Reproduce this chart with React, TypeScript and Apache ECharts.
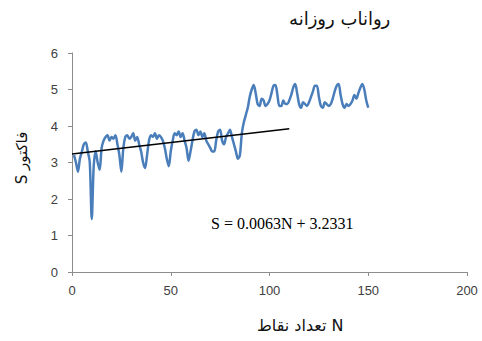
import React, { useEffect, useRef } from "react";
import * as echarts from "echarts";

const titleText = "رواناب روزانه";
const xAxisName = "تعداد نقاط N";
const yAxisName = "S فاکتور";
const equationText = "S = 0.0063N + 3.2331";
const slope = 0.0063;
const intercept = 3.2331;
const trendEndX = 110;

const sValues: number[] = [
  3.2, 3.0, 2.75, 3.1, 3.3, 3.5, 3.55, 3.3, 3.0, 1.45,
  2.9, 3.3, 3.0, 2.8, 3.4, 3.6, 3.7, 3.75, 3.6, 3.7,
  3.65, 3.75, 3.5, 3.2, 2.75, 3.4, 3.7, 3.75, 3.65, 3.7,
  3.8, 3.6, 3.7, 3.5, 3.3, 3.0, 2.85, 3.2, 3.6, 3.75,
  3.7, 3.8, 3.65, 3.75, 3.7, 3.6, 3.4, 3.1, 2.9, 3.3,
  3.6, 3.8, 3.75, 3.85, 3.7, 3.8, 3.6, 3.4, 3.05, 3.3,
  3.6, 3.85, 3.9, 3.75, 3.85, 3.7, 3.8, 3.6, 3.5, 3.4,
  3.3, 3.3, 3.6, 3.85, 3.9, 3.6, 3.5, 3.7, 3.8, 3.9,
  3.7, 3.5, 3.3, 3.1, 3.2, 3.8, 4.1, 4.3, 4.5, 4.8,
  5.0, 5.12, 4.9, 4.6, 4.55, 4.75, 4.7, 4.55, 4.6, 4.7,
  4.9, 5.1, 5.12, 4.85, 4.55, 4.55, 4.7, 4.6, 4.6, 4.7,
  4.85, 5.05, 5.15, 4.9, 4.6, 4.5, 4.65, 4.6, 4.55, 4.65,
  4.8, 4.95, 5.1, 5.1, 4.8, 4.55, 4.5, 4.65, 4.6, 4.55,
  4.6, 4.75, 4.95, 5.1, 5.15, 4.85, 4.6, 4.5, 4.6, 4.55,
  4.6, 4.7, 4.85, 4.75, 4.9, 5.05, 5.15, 5.0, 4.7, 4.5,
];

const xTicks = { min: 0, max: 200, interval: 50 };
const yTicks = { min: 0, max: 6, interval: 1 };

export default function App() {
  const ref = useRef<HTMLDivElement>(null);
  useEffect(() => {
    document.body.style.margin = "0";
    if (!ref.current) return;
    const chart = echarts.init(ref.current, null, { renderer: "svg" });
    const seriesData = sValues.map((v, i) => [i + 1, v]);
    const trendData = [
      [0, intercept],
      [trendEndX, +(intercept + slope * trendEndX).toFixed(4)],
    ];
    const axisColor = "#8c8c8c";
    const labelStyle = {
      color: "#404040",
      fontSize: 13,
      fontFamily: "Liberation Sans, Arial, sans-serif",
    };
    chart.setOption({
      animation: false,
      backgroundColor: "#ffffff",
      grid: { left: 72, right: 15, top: 53, bottom: 69, containLabel: false },
      xAxis: {
        type: "value",
        min: xTicks.min,
        max: xTicks.max,
        interval: xTicks.interval,
        splitLine: { show: false },
        axisLine: { show: true, lineStyle: { color: axisColor, width: 1 } },
        axisTick: { show: true, length: 4, lineStyle: { color: axisColor } },
        axisLabel: { ...labelStyle, margin: 12 },
      },
      yAxis: {
        type: "value",
        min: yTicks.min,
        max: yTicks.max,
        interval: yTicks.interval,
        splitLine: { show: false },
        axisLine: { show: true, lineStyle: { color: axisColor, width: 1 } },
        axisTick: { show: true, length: 4, lineStyle: { color: axisColor } },
        axisLabel: { ...labelStyle, margin: 14 },
      },
      graphic: [
        {
          type: "text",
          left: 289,
          top: 9,
          style: {
            text: titleText,
            fontSize: 18,
            fill: "#111",
            fontFamily: "DejaVu Sans, serif",
          },
        },
        {
          type: "text",
          left: 257,
          top: 317,
          style: {
            text: xAxisName,
            fontSize: 16,
            fill: "#111",
            fontFamily: "DejaVu Sans, serif",
          },
        },
        {
          type: "text",
          x: 22,
          y: 158,
          rotation: Math.PI / 2,
          style: {
            text: yAxisName,
            fontSize: 15,
            fill: "#111",
            align: "center",
            verticalAlign: "middle",
            fontFamily: "DejaVu Sans, serif",
          },
        },
        {
          type: "text",
          left: 211,
          top: 215,
          style: {
            text: equationText,
            fontSize: 16,
            fill: "#000",
            fontFamily: "Liberation Serif, Times New Roman, serif",
          },
        },
      ],
      series: [
        {
          type: "line",
          data: seriesData,
          showSymbol: false,
          symbol: "none",
          smooth: 0.3,
          lineStyle: { color: "#4a7ebb", width: 2.5 },
          z: 2,
        },
        {
          type: "line",
          data: trendData,
          showSymbol: false,
          symbol: "none",
          lineStyle: { color: "#000000", width: 1.5 },
          z: 3,
        },
      ],
    });
    return () => chart.dispose();
  }, []);
  return <div ref={ref} style={{ width: 482, height: 341 }} />;
}
